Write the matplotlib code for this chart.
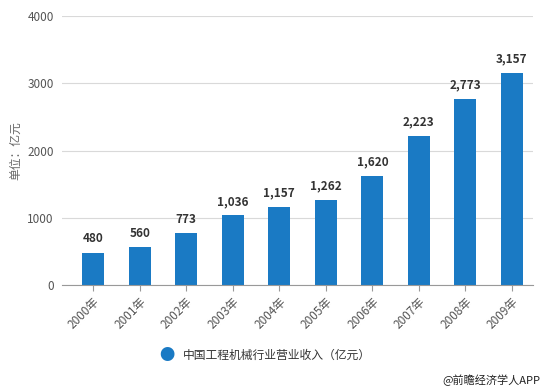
import matplotlib
matplotlib.use("Agg")
import matplotlib.pyplot as plt

plt.rcParams['font.family'] = ['Noto Sans CJK SC', 'DejaVu Sans']

years = ["2000年", "2001年", "2002年", "2003年", "2004年",
         "2005年", "2006年", "2007年", "2008年", "2009年"]
revenue = [480, 560, 773, 1036, 1157, 1262, 1620, 2223, 2773, 3157]
yticks = [0, 1000, 2000, 3000, 4000]

bar_color = "#1a7ac4"

fig = plt.figure(figsize=(5.46, 3.91), dpi=100)
ax = fig.add_axes([0.114, 0.271, 0.862, 0.688])

x = list(range(len(years)))
ax.bar(x, revenue, width=0.47, color=bar_color, zorder=2)
for xi, v in zip(x, revenue):
    ax.text(xi, v + 110, f"{v:,}", ha="center", va="bottom",
            fontsize=8.5, fontweight="bold", color="#333333")

ax.set_xlim(-0.665, 9.45)
ax.set_ylim(0, 4000)
ax.set_yticks(yticks)
ax.set_yticklabels([str(t) for t in yticks], fontsize=8.5, color="#555555")
ax.set_xticks(x)
ax.set_xticklabels(years, rotation=45, ha="right", rotation_mode="anchor",
                   fontsize=8.5, color="#555555")
ax.tick_params(axis="y", length=0, pad=6)
ax.tick_params(axis="x", length=4, color="#999999", width=0.8)
ax.grid(axis="y", color="#d9d9d9", linewidth=0.8, zorder=0)
for s in ["top", "right", "left"]:
    ax.spines[s].set_visible(False)
ax.spines["bottom"].set_color("#999999")
ax.set_ylabel("单位：亿元", fontsize=8.5, color="#666666", labelpad=4)

# legend and source
fig.text(0.306, 0.092, "●", fontsize=11, color=bar_color, ha="center", va="center")
fig.text(0.335, 0.092, "中国工程机械行业营业收入（亿元）", fontsize=8.5,
         color="#333333", ha="left", va="center")
fig.text(0.99, 0.028, "@前瞻经济学人APP", fontsize=8, color="#222222",
         ha="right", va="center")

fig.savefig("out.png", dpi=100)
